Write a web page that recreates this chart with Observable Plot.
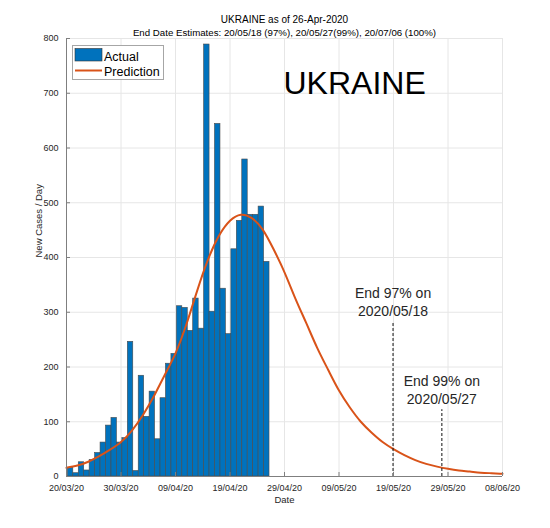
<!DOCTYPE html>
<html>
<head>
<meta charset="utf-8">
<script src="https://cdn.jsdelivr.net/npm/d3@7"></script>
<script src="https://cdn.jsdelivr.net/npm/@observablehq/plot@0.6"></script>
<style>
  html, body { margin: 0; padding: 0; background: white; }
  #chart { width: 550px; height: 528px; }
</style>
</head>
<body>
<div id="chart"></div>
<script>
// ---------- data ----------
const country = "UKRAINE";
const titleText = "UKRAINE as of 26-Apr-2020";
const subtitleText = "End Date Estimates: 20/05/18 (97%), 20/05/27(99%), 20/07/06 (100%)";

const xStartStr = "2020-03-20";
const xEndStr = "2020-06-08";
const xTickDates = ["2020-03-20","2020-03-30","2020-04-09","2020-04-19","2020-04-29","2020-05-09","2020-05-19","2020-05-29","2020-06-08"];
const yTicks = [0,100,200,300,400,500,600,700,800];

// daily new cases, 21 Mar 2020 .. 26 Apr 2020
const actualFirstDate = "2020-03-21";
const actualValues = [16,6,26,11,30,43,62,93,107,62,70,246,10,184,109,155,68,143,206,224,311,308,266,325,270,789,301,644,343,260,415,467,579,478,478,493,392];

// prediction curve read at day offsets from 20 Mar 2020
const predDays   = [0,2,4,6,8,10,12,14,16,18,20,22,24,26,28,30,32,34,36,38,40,42,44,46,48,50,52,54,56,58,60,62,64,66,68,70,72,74,76,78,80];
const predValues = [16,20,27,37,49,63,84,112,146,185,225,278,340,397,440,467,478,472,451,415,373,325,280,235,195,157,126,100,80,63,50,39,30,23,18,14,11,9,7,6,5];

const endDates  = ["2020-05-18T22:00Z","2020-05-27T21:00Z"];
const endTops   = [282, 122];
const endLabels = ["End 97% on\n2020/05/18", "End 99% on\n2020/05/27"];

const legendLabels = ["Actual", "Prediction"];

// ---------- build tables ----------
const parse = s => new Date(s.length === 10 ? s + "T00:00Z" : s);
const xStart = parse(xStartStr), xEnd = parse(xEndStr);
const xTicks = xTickDates.map(parse);
const firstBar = parse(actualFirstDate);
const bars = actualValues.map((v, i) => {
  const d = d3.utcDay.offset(firstBar, i);
  return {date: d, x1: d3.utcHour.offset(d, -18), x2: d3.utcHour.offset(d, 6), value: v};
});
const pred = predDays.map((d, i) => ({date: d3.utcDay.offset(xStart, d), value: predValues[i]}));
const ends = endDates.map((d, i) => ({date: parse(d), top: endTops[i], label: endLabels[i]}));

const BLUE = "#0072BD", ORANGE = "#D95319", TXT = "#262626", GRID = "#e6e6e6", AXIS = "#7f7f7f";
const FONT = "'Liberation Sans', Arial, Helvetica, sans-serif";

const W = 550, H = 528, mL = 66, mR = 48, mT = 38, mB = 52;
const pw = W - mL - mR, ph = H - mT - mB;

const chart = Plot.plot({
  width: W, height: H,
  marginLeft: mL, marginRight: mR, marginTop: mT, marginBottom: mB,
  style: {fontFamily: FONT, fontSize: "9px", color: TXT, background: "white", overflow: "visible"},
  x: {type: "utc", domain: [xStart, xEnd], ticks: xTicks, tickFormat: d3.utcFormat("%d/%m/%y"), tickSize: 0, tickPadding: 8, label: null},
  y: {domain: [0, 800], ticks: yTicks, tickSize: 0, tickPadding: 8, label: null},
  marks: [
    Plot.ruleX(xTicks, {x: d => d, stroke: GRID, strokeWidth: 1}),
    Plot.ruleY(yTicks, {y: d => d, stroke: GRID, strokeWidth: 1}),
    Plot.rectY(bars, {x1: "x1", x2: "x2", y: "value", fill: BLUE, stroke: "#4a4a4a", strokeWidth: 0.6}),
    Plot.line(pred, {x: "date", y: "value", stroke: ORANGE, strokeWidth: 2, curve: "natural"}),
    Plot.ruleX(ends, {x: "date", y1: 0, y2: "top", stroke: "#111", strokeWidth: 1, strokeDasharray: "3,2"}),
    Plot.text(ends, {x: "date", y: "top", text: "label", dy: -6, lineAnchor: "bottom", lineHeight: 1.29, fontSize: 14, fill: TXT}),
    Plot.text([country], {frameAnchor: "top-left", text: d => d, textAnchor: "start", lineAnchor: "bottom", dx: 217, dy: 55, fontSize: 32, fill: "#000"}),
    // axis lines and inward ticks
    Plot.ruleX([xStart], {stroke: AXIS, strokeWidth: 1}),
    Plot.ruleY([0], {stroke: AXIS, strokeWidth: 1}),
    Plot.tickY(yTicks, {y: d => d, stroke: AXIS, insetRight: pw - 4}),
    Plot.tickX(xTicks, {x: d => d, stroke: AXIS, insetTop: ph - 4}),
    // axis titles
    Plot.text(["Date"], {frameAnchor: "bottom", text: d => d, lineAnchor: "middle", dy: 23, fontSize: 9.5, fill: TXT}),
    Plot.text(["New Cases / Day"], {frameAnchor: "left", text: d => d, rotate: -90, lineAnchor: "middle", dx: -28, fontSize: 9.5, fill: TXT}),
    // titles
    Plot.text([titleText], {frameAnchor: "top", text: d => d, lineAnchor: "bottom", dy: -15.5, fontSize: 10, fill: "#000"}),
    Plot.text([subtitleText], {frameAnchor: "top", text: d => d, lineAnchor: "bottom", dy: -2.5, fontSize: 9.7, fill: "#000"})
  ]
});

// legend (inside the plot area, top-left)
const svg = d3.select(chart);
const lg = svg.append("g").attr("transform", "translate(72.5,45.5)")
  .attr("font-family", FONT).attr("text-anchor", "start");
lg.append("rect").attr("width", 91).attr("height", 34).attr("fill", "white").attr("stroke", "#a6a6a6").attr("stroke-width", 1);
lg.append("rect").attr("x", 2.5).attr("y", 3).attr("width", 27).attr("height", 12.5).attr("fill", BLUE).attr("stroke", "#333").attr("stroke-width", 0.6);
lg.append("line").attr("x1", 2.5).attr("x2", 29.5).attr("y1", 25).attr("y2", 25).attr("stroke", ORANGE).attr("stroke-width", 2);
lg.append("text").attr("x", 31.5).attr("y", 15.5).attr("font-size", 12.5).attr("fill", "#000").attr("text-anchor", "start").text(legendLabels[0]);
lg.append("text").attr("x", 31.5).attr("y", 30.5).attr("font-size", 12.5).attr("fill", "#000").attr("text-anchor", "start").text(legendLabels[1]);

document.getElementById("chart").appendChild(chart);
</script>
</body>
</html>
